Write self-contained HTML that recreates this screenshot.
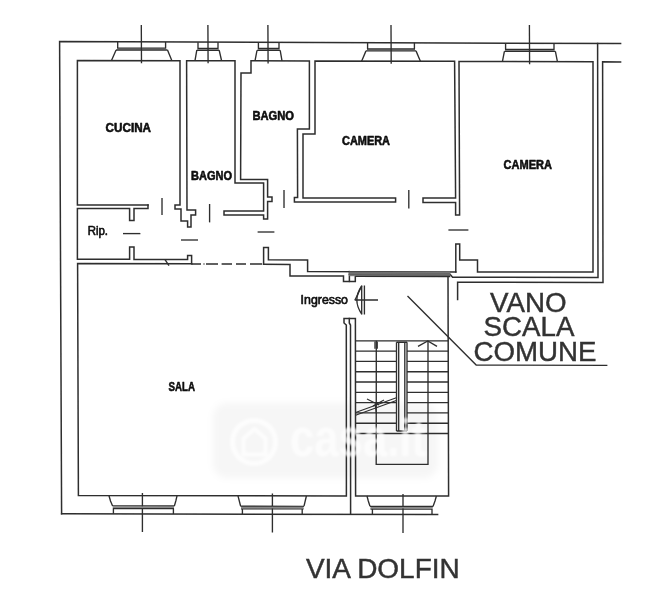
<!DOCTYPE html>
<html><head><meta charset="utf-8">
<style>
html,body{margin:0;padding:0;background:#fff;}
body{width:651px;height:600px;overflow:hidden;position:relative;font-family:"Liberation Sans",sans-serif;}
svg{position:absolute;left:0;top:0;display:block;}
.l{fill:none;stroke:#2e2e2e;stroke-width:1.5;stroke-linecap:square;stroke-linejoin:miter;}
.t{fill:none;stroke:#2e2e2e;stroke-width:1.35;}
.lab{font-family:"Liberation Sans",sans-serif;font-weight:bold;fill:#0a0a0a;stroke:#0a0a0a;stroke-width:0.55;stroke-linejoin:round;}
.big{font-family:"Liberation Sans",sans-serif;font-weight:normal;fill:#333;stroke:#333;stroke-width:0.45;}
</style></head><body>
<svg width="651" height="600" viewBox="0 0 651 600">
<defs>
<filter id="soft" x="-5%" y="-5%" width="110%" height="110%"><feGaussianBlur stdDeviation="0.35"/></filter>
<filter id="soft2" x="-5%" y="-20%" width="110%" height="140%"><feGaussianBlur stdDeviation="0.8"/></filter>
<filter id="wmblur" x="-30%" y="-80%" width="160%" height="260%"><feGaussianBlur stdDeviation="3.5"/></filter>
</defs>
<rect x="0" y="0" width="651" height="600" fill="#fff"/>
<!-- WATERMARK -->
<g id="wm">
<rect x="213" y="403" width="225" height="75" rx="14" fill="#000" fill-opacity="0.036" filter="url(#wmblur)"/>
</g>
<g filter="url(#soft)">
<!-- OUTER WALLS -->
<path class="l" d="M61.6,513.8 L59.6,41.6 L620.6,43.6"/>
<path class="l" d="M61.6,513.8 L437.6,514.6"/>
<path class="l" d="M597.6,43.5 L598,277.6 L452.6,277.2 L450.3,274.5"/>
<path class="l" d="M620.6,61.9 L602.6,61.8 L603,282.4 L457.6,282.3 L457.6,299.6"/>
<!-- CUCINA + walls chain -->
<path class="l" d="M148,205 L77.4,205 L77.4,60.4 L180,60.66 L180,205 L175,205 L175,209 L181,209 L181,221 L187.6,221 L187.6,227 L191,227 L191,215 L195.6,215 L195.6,210 L187,210 L186.6,60.7 L235,60.8 L235,183 L263.6,183 L263.6,211 L224,211 L224,215 L263.6,215 L263.6,219 L267.6,219 L267.6,201.6 L272,201.6 L272,197 L267.6,197 L267.6,179.6 L240.6,179.6 L241,73 L251,73 L251,60.85 L309.4,61 L309.4,129 L297.4,129 L297.6,197.6 L294.4,197.6 L294.4,202 L395.6,202 L395.6,198 L303,198 L303,134 L315,134 L315,61 L454.6,61.35 L455.6,198 L423,198 L423,202.4 L455.6,202.4 L455.6,215 L459.6,215 L459,61.4 L593,61.7 L593,272 L477.5,272 L477.5,260 L459.7,260 L459.7,244 L455.8,244 L455.8,272"/>
<!-- cucina bottom / rip -->
<path class="l" d="M148,205 L148,208.4 L134,208.4 L134,220.4 L129.6,220.4 L129.6,208.4 L77.4,208.4 L77.4,259.2 L129.6,259.2 L129.6,247 L134,247 L134,259.6 L187.6,259.6 L187.6,255.6 L191.6,255.6 L191.6,263.8"/>
<!-- SALA -->
<path class="l" d="M191.6,263.8 L77.6,263.4 L78.4,495.6 L346.4,496 L346.3,325 L344,323 L344,318.5 L355.4,318.5 L355.6,496 L448.6,496 L448,276.3"/>
<path class="l" d="M349.3,318.5 L349.3,323 L350.5,325 L350.6,514.2"/>
<!-- dashed line -->
<path class="t" d="M191.6,264 L201,264 M203.5,264 L204.5,264 M206,264 L218,264 M221.6,264 L232,264 M236,264 L246,264 M250,264 L262,264"/>
<!-- corridor lower wall right part -->
<path class="l" d="M263.6,264.2 L263.6,247.6 L268.4,247.6 L268.4,259.8 L307.6,260 L307.6,271.5 L455.8,272"/>
<path class="l" d="M263.6,264.2 L290,264.4 L290,276 L343.5,276 L343.5,281.4 L355.3,281.4 L355.3,276.3"/>
<path class="l" d="M349.4,271.6 L349.4,281.4"/>
<path class="l" d="M349.4,274.4 L355.3,274.4"/>
<!-- thick entrance band -->
<rect x="349.2" y="271.6" width="101" height="4.6" fill="#7c7c7c"/>
<path d="M349.2,272.9 L450.3,273.3 M349.2,274.5 L450.3,274.9" stroke="#555" stroke-width="0.7" fill="none"/>
<path class="t" d="M355.3,276.4 L450.3,276.5" stroke-width="1.1"/>
<!-- door ticks -->
<g class="t">
<path d="M162,198 L162,215"/>
<path d="M209.6,204 L209.6,222.4"/>
<path d="M284,190 L284,208"/>
<path d="M408.8,190 L408.8,208.4"/>
<path d="M123,233.6 L140.4,233.6"/>
<path d="M181,240 L198,240"/>
<path d="M257.6,232 L274.4,232"/>
<path d="M448.4,230 L468.4,230"/>
<path d="M165,259.6 L169,265.6"/>
</g>
<!-- TOP WINDOWS -->
<g class="t" id="wtop">
<path stroke="#b4b4b4" stroke-width="0.9" d="M117.10000000000001,49.04 L166.2,49.04 M197.4,49.28 L218.6,49.28 M257.79999999999995,49.49 L279.6,49.49 M367.0,49.93 L415.0,49.93 M505.0,50.43 L554.6,50.43"/>
<path d="M117.7,41.89 L117.7,48.09 M165.6,41.89 L165.6,48.09 M117.10000000000001,48.09 L166.2,48.09 M116.1,49.99 L167.5,49.99 M116.1,49.99 L111.5,60.56 M167.5,49.99 L171.8,60.56 M141.3,25 L141.5,63.16"/>
<path d="M198,42.13 L198,48.33 M218,42.13 L218,48.33 M197.4,48.33 L218.6,48.33 M196.8,50.23 L219.2,50.23 M196.8,50.23 L195,60.73 M219.2,50.23 L221.6,60.73 M207.9,25 L208.1,63.33"/>
<path d="M258.4,42.34 L258.4,48.54 M279,42.34 L279,48.54 M257.79999999999995,48.54 L279.6,48.54 M257,50.44 L280.2,50.44 M257,50.44 L255,60.88 M280.2,50.44 L282,60.88 M267.9,25 L268.1,63.48"/>
<path d="M367.6,42.78 L367.6,48.98 M414.4,42.78 L414.4,48.98 M367.0,48.98 L415.0,48.98 M366,50.88 L416,50.88 M366,50.88 L361.6,61.19 M416,50.88 L420.4,61.19 M391.0,25 L391.20000000000005,63.79"/>
<path d="M505.6,43.28 L505.6,49.48 M554,43.28 L554,49.48 M505.0,49.48 L554.6,49.48 M504.4,51.38 L555.4,51.38 M504.4,51.38 L502.4,61.53 M555.4,51.38 L557.4,61.53 M529.4,25 L529.6,64.13"/>
</g>
<!-- BOTTOM WINDOWS -->
<g class="t" id="wbot">
<path d="M109,495.7 L110.5,501 L112.5,505.8 M177,495.8 L175.8,501 L174.4,505.9 M112.5,505.9 L174.4,506 M112.8,508.5 L174,508.6 M113.4,508.5 L113.4,513.8 M173.4,508.6 L173.4,513.9 M142.4,493 L142.4,532"/>
<path d="M112.8,507.2 L174,507.3" stroke="#888" stroke-width="1.6"/>
<path d="M238,495.9 L239.3,501 L240.6,506.1 M306.4,496 L305.2,501 L304,506.2 M240.6,506.2 L304,506.3 M241,508.8 L303.6,508.9 M242.4,508.8 L242.4,514.1 M302.2,508.9 L302.2,514.2 M272.4,493.6 L272.4,532.4"/>
<path d="M241,507.5 L303.6,507.6" stroke="#888" stroke-width="1.6"/>
<path d="M367,496 L368.3,501 L370,506.3 M436.4,496 L435,501 L433,506.4 M370,506.4 L433,506.5 M370.5,509 L432.6,509.1 M372.4,509 L372.4,514.4 M432,509.1 L432,514.6 M403,494 L403,533"/>
<path d="M370.5,507.7 L432.6,507.8" stroke="#888" stroke-width="1.6"/>
</g>
<!-- STAIRS -->
<g class="t" id="stairs">
<path d="M355.6,340.8 L448.3,340.8 M355.6,351.1 L396.5,351.1 M407,351.1 L448.2,351.1 M355.6,361.4 L396.5,361.4 M407,361.4 L448.2,361.4 M355.6,371.7 L396.5,371.7 M407,371.7 L448.2,371.7 M355.6,382.0 L396.5,382.0 M407,382.0 L448.2,382.0 M355.6,392.3 L396.5,392.3 M407,392.3 L448.2,392.3 M355.6,402.6 L396.5,402.6 M407,402.6 L448.2,402.6 M355.6,412.9 L396.5,412.9 M407,412.9 L448.2,412.9 M355.6,423.2 L396.5,423.2 M407,423.2 L448.2,423.2 M355.6,433.5 L448.3,433.5"/>
<path d="M376.3,340.8 L376.2,464.4 L428,464.4 L428,340.8"/>
<path d="M396.5,342.2 L396.5,431 M398.7,342.2 L398.7,431 M404.8,342.2 L404.8,431 M407,342.2 L407,431 M396.5,342.2 L407,342.2 M396.5,431 L407,431"/>
<path d="M418,346.4 L427.8,341 L437,346.4"/>
<path d="M375,341.5 L375,348.8 M377.2,341.5 L377.2,348.8"/>
<path stroke-width="1.1" d="M355.6,412.6 L397,397.6 M355.6,415.2 L397,400.2"/>
<path stroke-width="1.1" d="M367,399 L379,405 M384,400 L373,406 M375,404 L376.5,414"/>
</g>
<!-- entrance door symbol -->
<g class="t">
<path d="M361.7,285.4 L361.7,314.6 M364.4,285.4 L364.4,314.6 M354.7,300 L378,300"/>
<path d="M361.7,286 Q352,300 361.7,314"/>
<path d="M361.7,286 L355,300"/>
</g>
<!-- diagonal leader -->
<path class="t" d="M407.5,296 L476.2,365 L607.4,365.4"/>
</g>
<!-- watermark top -->
<g id="wmtop" fill="#fff" fill-opacity="0.7" stroke="none" filter="url(#soft2)">
<circle cx="254" cy="442" r="21.5" fill="none" stroke="#fff" stroke-opacity="0.75" stroke-width="5"/>
<path d="M254.5,429 L265.5,438.5 L265.5,454.5 L243.5,454.5 L243.5,438.5 Z" fill="none" stroke="#fff" stroke-opacity="0.75" stroke-width="4" stroke-linejoin="round"/>
<text x="290" y="456" font-family="Liberation Sans, sans-serif" font-weight="bold" font-size="51" textLength="136" lengthAdjust="spacingAndGlyphs">casa.it</text>
</g>
<!-- LABELS -->
<g class="lab" filter="url(#soft)">
<text x="105.6" y="132" font-size="12.4" textLength="45.4" lengthAdjust="spacingAndGlyphs">CUCINA</text>
<text x="191" y="180.4" font-size="12.4" textLength="41" lengthAdjust="spacingAndGlyphs">BAGNO</text>
<text x="252.4" y="120" font-size="12.4" textLength="41.6" lengthAdjust="spacingAndGlyphs">BAGNO</text>
<text x="342" y="145" font-size="12.4" textLength="48" lengthAdjust="spacingAndGlyphs">CAMERA</text>
<text x="503.5" y="169" font-size="12.4" textLength="48.5" lengthAdjust="spacingAndGlyphs">CAMERA</text>
<text x="87.7" y="234.8" font-size="12.4" font-weight="normal" stroke-width="0.6" textLength="20.3" lengthAdjust="spacingAndGlyphs">Rip.</text>
<text x="168.5" y="391" font-size="12.4" textLength="26.5" lengthAdjust="spacingAndGlyphs">SALA</text>
<text x="300.6" y="304.4" font-size="12.4" font-weight="normal" stroke-width="0.6" textLength="47.4" lengthAdjust="spacingAndGlyphs">Ingresso</text>
</g>
<g class="big" filter="url(#soft)">
<text x="490.0" y="312" font-size="28.3" textLength="76.5" lengthAdjust="spacingAndGlyphs">VANO</text>
<text x="483.6" y="336.4" font-size="28.3" textLength="90.8" lengthAdjust="spacingAndGlyphs">SCALA</text>
<text x="473.6" y="360.9" font-size="28.3" textLength="122.9" lengthAdjust="spacingAndGlyphs">COMUNE</text>
<text x="305.9" y="578.2" font-size="27.5" textLength="153.8" lengthAdjust="spacingAndGlyphs">VIA DOLFIN</text>
</g>
</svg>
</body></html>
